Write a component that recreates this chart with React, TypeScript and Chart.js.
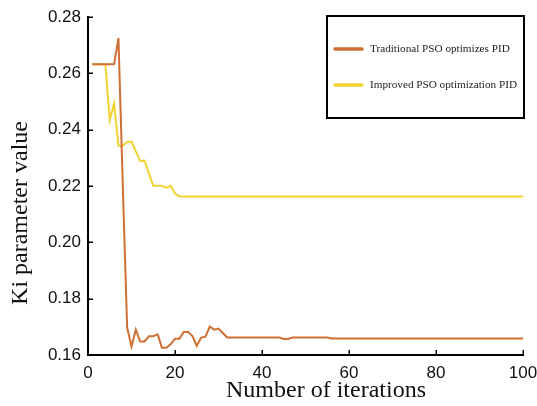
import React, { useEffect, useRef } from "react";
import { Chart, registerables } from "chart.js";

Chart.register(...registerables);

const iterations: number[] = [
  1, 2, 3, 4, 5, 6, 7, 8, 9, 10, 11, 12, 13, 14, 15, 16, 17, 18, 19, 20,
  21, 22, 23, 24, 25, 26, 27, 28, 29, 30, 31, 32, 33, 34, 35, 36, 37, 38, 39, 40,
  41, 42, 43, 44, 45, 46, 47, 48, 49, 50, 51, 52, 53, 54, 55, 56, 57, 58, 59, 60,
  61, 62, 63, 64, 65, 66, 67, 68, 69, 70, 71, 72, 73, 74, 75, 76, 77, 78, 79, 80,
  81, 82, 83, 84, 85, 86, 87, 88, 89, 90, 91, 92, 93, 94, 95, 96, 97, 98, 99, 100,
];

const traditionalPSO: number[] = [
  0.2632, 0.2632, 0.2632, 0.2632, 0.2632, 0.2632, 0.2725, 0.22, 0.1697, 0.163,
  0.169, 0.1648, 0.1648, 0.1667, 0.1667, 0.1673, 0.1626, 0.1626, 0.1638, 0.1658,
  0.1658, 0.1682, 0.1682, 0.1667, 0.1632, 0.1662, 0.1665, 0.1701, 0.169, 0.1694,
  0.1678, 0.1662, 0.1662, 0.1662, 0.1662, 0.1662, 0.1662, 0.1662, 0.1662, 0.1662,
  0.1662, 0.1662, 0.1662, 0.1662, 0.1657, 0.1657, 0.1662, 0.1662, 0.1662, 0.1662,
  0.1662, 0.1662, 0.1662, 0.1662, 0.1662, 0.1659, 0.1659, 0.1659, 0.1659, 0.1659,
  0.1659, 0.1659, 0.1659, 0.1659, 0.1659, 0.1659, 0.1659, 0.1659, 0.1659, 0.1659,
  0.1659, 0.1659, 0.1659, 0.1659, 0.1659, 0.1659, 0.1659, 0.1659, 0.1659, 0.1659,
  0.1659, 0.1659, 0.1659, 0.1659, 0.1659, 0.1659, 0.1659, 0.1659, 0.1659, 0.1659,
  0.1659, 0.1659, 0.1659, 0.1659, 0.1659, 0.1659, 0.1659, 0.1659, 0.1659, 0.1659,
];

const improvedPSO: number[] = [
  0.2632, 0.2632, 0.2632, 0.2632, 0.2434, 0.2493, 0.2343, 0.2343, 0.2357, 0.2357,
  0.2323, 0.2289, 0.229, 0.2245, 0.2201, 0.2201, 0.2201, 0.2193, 0.2201, 0.2173,
  0.2163, 0.2163, 0.2163, 0.2163, 0.2163, 0.2163, 0.2163, 0.2163, 0.2163, 0.2163,
  0.2163, 0.2163, 0.2163, 0.2163, 0.2163, 0.2163, 0.2163, 0.2163, 0.2163, 0.2163,
  0.2163, 0.2163, 0.2163, 0.2163, 0.2163, 0.2163, 0.2163, 0.2163, 0.2163, 0.2163,
  0.2163, 0.2163, 0.2163, 0.2163, 0.2163, 0.2163, 0.2163, 0.2163, 0.2163, 0.2163,
  0.2163, 0.2163, 0.2163, 0.2163, 0.2163, 0.2163, 0.2163, 0.2163, 0.2163, 0.2163,
  0.2163, 0.2163, 0.2163, 0.2163, 0.2163, 0.2163, 0.2163, 0.2163, 0.2163, 0.2163,
  0.2163, 0.2163, 0.2163, 0.2163, 0.2163, 0.2163, 0.2163, 0.2163, 0.2163, 0.2163,
  0.2163, 0.2163, 0.2163, 0.2163, 0.2163, 0.2163, 0.2163, 0.2163, 0.2163, 0.2163,
];

const seriesLabels: string[] = [
  "Traditional PSO optimizes PID",
  "Improved PSO optimization PID",
];
const xTitle = "Number of iterations";
const yTitle = "Ki parameter value";
const xTicks: number[] = [0, 20, 40, 60, 80, 100];
const yTicks: number[] = [0.16, 0.18, 0.2, 0.22, 0.24, 0.26, 0.28];

const ORANGE = "#CF6F34";
const YELLOW = "#F3D232";
const SERIF = "'Liberation Serif', 'Times New Roman', serif";
const SANS = "'Liberation Sans', Arial, sans-serif";

const decorPlugin = {
  id: "decor",
  afterDraw(chart: any) {
    const ctx: CanvasRenderingContext2D = chart.ctx;
    const xs = chart.scales.x;
    const ys = chart.scales.y;
    const area = chart.chartArea;
    ctx.save();
    // inward tick marks
    ctx.strokeStyle = "#000";
    ctx.lineWidth = 1.5;
    ctx.beginPath();
    for (const v of xTicks) {
      const px = Math.round(xs.getPixelForValue(v)) + 0.25;
      ctx.moveTo(px, area.bottom);
      ctx.lineTo(px, area.bottom - 5);
    }
    for (const v of yTicks) {
      const py = Math.round(ys.getPixelForValue(v)) + 0.25;
      ctx.moveTo(area.left, py);
      ctx.lineTo(area.left + 5, py);
    }
    ctx.stroke();

    // axis titles
    ctx.fillStyle = "#111";
    ctx.font = `24px ${SERIF}`;
    ctx.textAlign = "center";
    ctx.textBaseline = "alphabetic";
    ctx.fillText(xTitle, 326, 397);
    ctx.save();
    ctx.translate(27, 213);
    ctx.rotate(-Math.PI / 2);
    ctx.fillText(yTitle, 0, 0);
    ctx.restore();

    // legend box
    const bx = 327, by = 16, bw = 197, bh = 102;
    ctx.fillStyle = "#fff";
    ctx.fillRect(bx, by, bw, bh);
    ctx.strokeStyle = "#000";
    ctx.lineWidth = 2;
    ctx.strokeRect(bx, by, bw, bh);
    const colors = [ORANGE, YELLOW];
    const rows = [49, 85];
    ctx.font = `11.2px ${SERIF}`;
    ctx.textAlign = "left";
    ctx.textBaseline = "middle";
    chart.data.datasets.forEach((ds: any, i: number) => {
      ctx.strokeStyle = colors[i];
      ctx.lineWidth = 3.5;
      ctx.lineCap = "round";
      ctx.beginPath();
      ctx.moveTo(335, rows[i]);
      ctx.lineTo(362, rows[i]);
      ctx.stroke();
      ctx.fillStyle = "#222";
      ctx.fillText(ds.label, 370, rows[i]);
    });
    ctx.restore();
  },
};

export default function App() {
  const ref = useRef<HTMLCanvasElement | null>(null);
  useEffect(() => {
    if (!ref.current) return;
    const chart = new Chart(ref.current, {
      type: "line",
      data: {
        labels: iterations,
        datasets: [
          {
            label: seriesLabels[0],
            data: iterations.map((x, i) => ({ x, y: traditionalPSO[i] })),
            borderColor: ORANGE,
            borderWidth: 2,
            pointRadius: 0,
            tension: 0,
            fill: false,
          },
          {
            label: seriesLabels[1],
            data: iterations.map((x, i) => ({ x, y: improvedPSO[i] })),
            borderColor: YELLOW,
            borderWidth: 2,
            pointRadius: 0,
            tension: 0,
            fill: false,
          },
        ],
      },
      options: {
        responsive: false,
        animation: false,
        layout: { padding: { top: 17, right: 14, left: 0, bottom: 0 } },
        plugins: {
          legend: { display: false },
          tooltip: { enabled: false },
          title: { display: false },
        },
        scales: {
          x: {
            type: "linear",
            min: 0,
            max: 100,
            afterBuildTicks: (s: any) => {
              s.ticks = xTicks.map((v) => ({ value: v }));
            },
            afterFit: (s: any) => {
              s.height = 51;
              s.paddingLeft = 0;
              s.paddingRight = 0;
            },
            grid: { display: true, drawOnChartArea: false, drawTicks: false },
            border: { display: true, color: "#000", width: 2 },
            ticks: {
              padding: 8,
              color: "#111",
              font: { family: SANS, size: 17 },
              maxRotation: 0,
              callback: (v: any) => String(v),
            },
          },
          y: {
            type: "linear",
            min: 0.16,
            max: 0.28,
            afterBuildTicks: (s: any) => {
              s.ticks = yTicks.map((v) => ({ value: v }));
            },
            afterFit: (s: any) => {
              s.width = 88;
              s.paddingTop = 0;
              s.paddingBottom = 0;
            },
            grid: { display: true, drawOnChartArea: false, drawTicks: false },
            border: { display: true, color: "#000", width: 2 },
            ticks: {
              padding: 7,
              color: "#111",
              font: { family: SANS, size: 17 },
              callback: (v: any) => Number(v).toFixed(2),
            },
          },
        },
      },
      plugins: [decorPlugin],
    });
    return () => chart.destroy();
  }, []);
  return (
    <div style={{ position: "fixed", left: 0, top: 0, width: 537, height: 406, background: "#fff" }}>
      <canvas ref={ref} width={537} height={406} style={{ display: "block" }} />
    </div>
  );
}
